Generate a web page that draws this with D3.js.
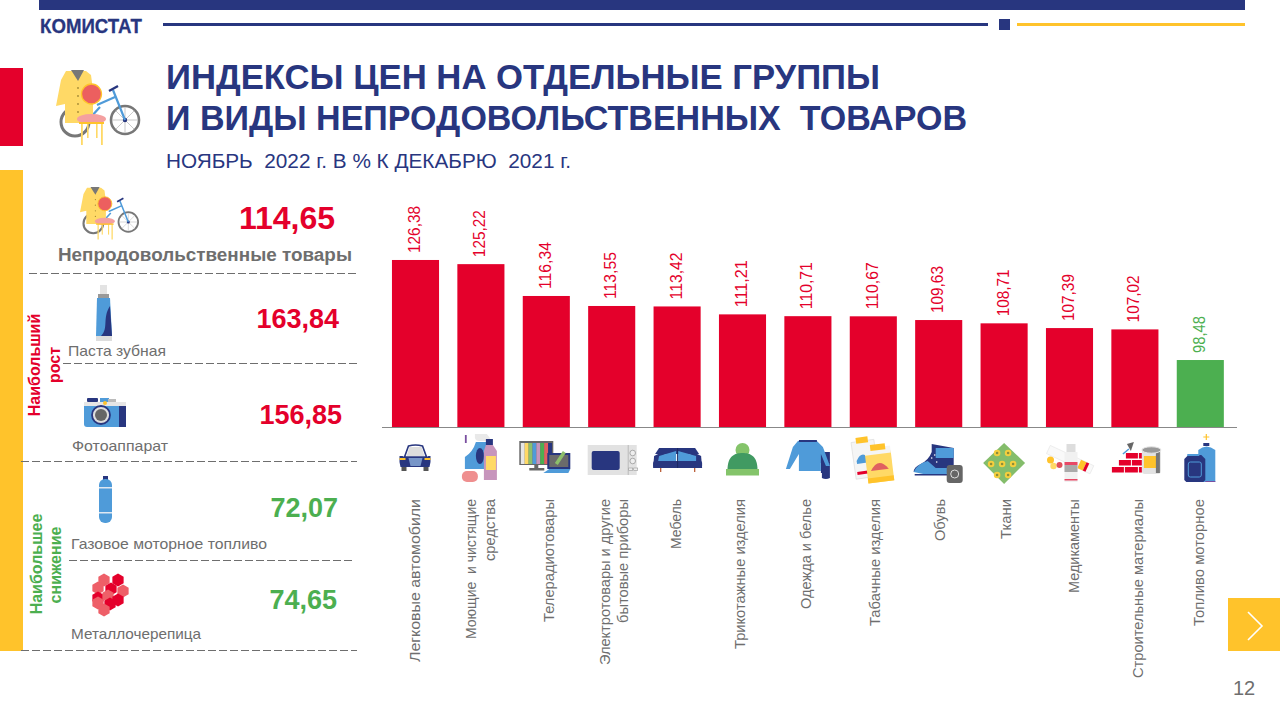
<!DOCTYPE html>
<html lang="ru"><head><meta charset="utf-8">
<script src="https://cdnjs.cloudflare.com/ajax/libs/d3/7.8.5/d3.min.js"></script>
<style>html,body{margin:0;padding:0;background:#fff;overflow:hidden}svg{display:block;font-family:"Liberation Sans",Arial,sans-serif}text{white-space:pre}</style>
</head><body><svg id="c" width="1280" height="720"></svg>
<script>
const categories=[["Легковые автомобили"],["Моющие  и чистящие","средства"],["Телерадиотовары"],["Электротовары и другие","бытовые приборы"],["Мебель"],["Трикотажные изделия"],["Одежда и белье"],["Табачные изделия"],["Обувь"],["Ткани"],["Медикаменты"],["Строительные материалы"],["Топливо моторное"]];
const values=[126.38,125.22,116.34,113.55,113.42,111.21,110.71,110.67,109.63,108.71,107.39,107.02,98.48];
const iconKeys=["car","clean","tv","micro","sofa","hat","clothes","tobacco","boot","fabric","meds","build","fuel"];
const panelNames=["Паста зубная","Фотоаппарат","Газовое моторное топливо","Металлочерепица"];
const panelValues=[163.84,156.85,72.07,74.65];
const overallName="Непродовольственные товары";
const overallValue=114.65;

const NAVY="#28367f",RED="#e4002b",YEL="#ffc32b",GRN="#4caf50",GREY="#6e6e6e",BLUE="#4f9bd9";
const svg=d3.select("#c");
const fmt=v=>v.toFixed(2).replace(".",",");
const R=(g,x,y,w,h,f,o={})=>{const e=g.append("rect").attr("x",x).attr("y",y).attr("width",w).attr("height",h).attr("fill",f);for(const k in o)e.attr(k,o[k]);return e};
const C=(g,x,y,r,f,s,sw)=>g.append("circle").attr("cx",x).attr("cy",y).attr("r",r).attr("fill",f||"none").attr("stroke",s||"none").attr("stroke-width",sw||0);
const P=(g,d,f,s,sw)=>g.append("path").attr("d",d).attr("fill",f||"none").attr("stroke",s||"none").attr("stroke-width",sw||0);
const T=(g,x,y,t,size,fill,o={})=>{const e=g.append("text").attr("x",x).attr("y",y).attr("font-size",size).attr("fill",fill).text(t);for(const k in o)e.attr(k,o[k]);return e};
const VT=(g,x,y,t,size,fill,o={})=>{const e=g.append("text").attr("transform",`translate(${x},${y}) rotate(-90)`).attr("font-size",size).attr("fill",fill).text(t);for(const k in o)e.attr(k,o[k]);return e};

/* frame */
R(svg,39,0,1206,10,NAVY);
R(svg,163,23,825,3,NAVY);
R(svg,999,19,11,11,NAVY);
R(svg,1017,23,228,3,YEL);
T(svg,40,33,"КОМИСТАТ",21,NAVY,{"font-weight":"bold",textLength:102,lengthAdjust:"spacingAndGlyphs",stroke:NAVY,"stroke-width":.3});
R(svg,0,68,23,78,RED);
R(svg,0,170,23,481,YEL);
R(svg,1228,598,52,53,YEL);
P(svg,"M1248,612L1262,626L1248,640","none","#fff",1.6);
T(svg,1233,695,"12",20,GREY);
T(svg,166,88.5,"ИНДЕКСЫ ЦЕН НА ОТДЕЛЬНЫЕ ГРУППЫ",35,NAVY,{"font-weight":"bold",textLength:714,lengthAdjust:"spacingAndGlyphs"});
T(svg,166,130,"И ВИДЫ НЕПРОДОВОЛЬСТВЕННЫХ  ТОВАРОВ",35,NAVY,{"font-weight":"bold",textLength:801,lengthAdjust:"spacingAndGlyphs"});
T(svg,166,168,"НОЯБРЬ  2022 г. В % К ДЕКАБРЮ  2021 г.",20,NAVY,{textLength:405,lengthAdjust:"spacingAndGlyphs"});

/* icons */
const icons={
 main(g){
  C(g,75,122,14,"none","#777",3);C(g,125,120,14,"#fff","#777",2.6);
  [0,45,90,135].forEach(a=>{const r=a*Math.PI/180,dx=13*Math.cos(r),dy=13*Math.sin(r);P(g,`M${125-dx},${120-dy}L${125+dx},${120+dy}`,"none","#bbb",.8)});
  C(g,125,120,2.2,NAVY);
  P(g,"M125,120L113,90M97,105L115,97M100,107L90,118",null,BLUE,2.2);P(g,"M109,91L118,86",null,NAVY,2.4);
  P(g,"M66,71H86L91,75L93,90V123H65V104L56,106L61,80Z","#ffd966");
  P(g,"M71,70H84L78,81Z","#777");
  [88,96,104,112].forEach(v=>C(g,78,v,.9,"#a58a35"));
  C(g,91.5,94,10,"#ec5f5f",YEL,1.3);
  R(g,81,123,1.8,22,"#ffd966");R(g,101,123,1.8,22,"#ffd966");R(g,87,123,1.6,15,"#ffd966");R(g,96,123,1.6,15,"#ffd966");
  g.append("ellipse").attr("cx",91.5).attr("cy",119).attr("rx",14.5).attr("ry",5).attr("fill","#f4a0a0");
  R(g,79,122,25,2,YEL);
 },
 paste(g){
  R(g,100,285,7,9,"#e3e3e3");R(g,98,294,11,4,"#999");
  P(g,"M97,298H110L112,336H96Z",BLUE);P(g,"M110,306L112,336H101C109,328,102,318,110,306Z",NAVY);
  R(g,96,336,16,5,"#ddd");
 },
 camera(g){
  R(g,87,398,11,4,NAVY,{rx:1});R(g,100,398,9,4,BLUE);R(g,108,399,8,3,"#bbb");
  R(g,84,402,42,25,BLUE,{rx:3});R(g,84,402,42,4,"#e6e6e6");R(g,119,406,7,21,NAVY);
  C(g,101,415,9,"#ddd",NAVY,1.8);C(g,101,415,6,"#666");C(g,105,403,2,YEL);
 },
 gas(g){
  R(g,103,476,5,4,NAVY);
  R(g,99,479,13,44,BLUE,{rx:6});R(g,99,487,13,1.5,"#dfe8f2");R(g,99,512,13,1.5,"#dfe8f2");
 },
 tile(g){
  const pts=[[104,580],[118,580],[98,588],[111,589],[123,591],[98,598],[108,596],[118,600],[98,603],[110,604],[104,610]];
  pts.forEach((p,i)=>{const [x,y]=p,r=6.5,d=d3.range(6).map(k=>{const a=k*Math.PI/3+Math.PI/6;return[x+r*Math.cos(a),y+r*Math.sin(a)]});
   P(g,"M"+d.join("L")+"Z",i%2==0?"#ee5f68":RED);});
 },
 car(g){
  P(g,"M-11,-2L-7,-13Q0,-15,7,-13L11,-2Z","#fff",NAVY,1.6);P(g,"M-9,-3L-6,-12H6L9,-3Z","#ddd");
  P(g,"M-16,-3L-13,-3L-11,-2H11L13,-3L15,-3V3L14,8H-15L-16,3Z",NAVY);
  R(g,-16,-1,6,2,YEL);R(g,9,-1,6,2,YEL);P(g,"M-7,-1H7L5,7H-5Z","#7896c8");
  R(g,-14,8,5,4,"#555");R(g,8,8,5,4,"#555");
 },
 clean(g){
  P(g,"M-5,-17H5L7,-14V10H-16V-2Q-8,-7,-5,-17Z",BLUE);P(g,"M-6,-25H6L9,-21V-18H-2Q-5,-18,-6,-21Z","#e9e9e9");R(g,-16,-24,1.8,8,"#7a4fa0");
  g.append("ellipse").attr("cx",-1).attr("cy",-3).attr("rx",4).attr("ry",8).attr("fill",NAVY);
  R(g,5,-20,7,6,NAVY);P(g,"M3,-8L5,-14H12L16,-8V21H3Z","#c795bc");R(g,5,-3,10,14,"#ffd966");
  R(g,-19,12,16,11,"#ef8f8f",{rx:5});
 },
 tv(g){
  R(g,-27,-18,34,24,"#666");
  ["#e6e6e6","#ffd966","#8dbf6b",BLUE,"#c795bc",GRN,"#e06060",NAVY].forEach((c,i)=>R(g,-25.5+i*3.9,-16,3.9,21,c));
  R(g,-12,6,4,4,"#666");R(g,-17,9,15,2.5,"#666");
  R(g,1,-6,23,16,NAVY);R(g,3,-4,19,12,"#6b6b6b");P(g,"M-3,14L3,10H24L22,14Z",BLUE);
  P(g,"M10,5L18,-7",null,"#8dbf6b",3.5);
 },
 micro(g){
  R(g,-24,-15,49,30,"#e2e2e2");R(g,16,-15,1,30,"#bbb");
  R(g,-20,-9,28,19,NAVY,{rx:2});
  C(g,21,-7,2.8,"#eee","#999",.8);C(g,21,1,2.8,"#eee","#999",.8);
  R(g,17,8,4,2.5,"#eee",{stroke:"#999","stroke-width":.6});R(g,22,8,4,2.5,"#eee",{stroke:"#999","stroke-width":.6});
 },
 sofa(g){
  P(g,"M-18,-12H18L22,-6H-22Z",NAVY);
  P(g,"M-23,-4L-17,-7L-2,-3V8H-24Z",NAVY);P(g,"M24,-4L18,-7L2,-3V8H25Z",NAVY);
  P(g,"M-18,-4L-1,-9V1H-19Z",BLUE);P(g,"M19,-4L1,-9V1H19Z",BLUE);
  R(g,-24,1,49,7,NAVY,{rx:2});R(g,0,-12,1,20,"#1b2860");
  R(g,-17,8,1.2,4,"#b5532a");R(g,17,8,1.2,4,"#b5532a");
 },
 hat(g){
  C(g,0,-10,7,"#84c46a");
  P(g,"M-15,10C-15,-4,-8,-7,0,-7C8,-7,15,-4,15,10Z","#419a62");
  R(g,-16.5,9,33,6.5,"#84c46a");
 },
 clothes(g){
  R(g,11,-8,11,11,NAVY);R(g,13,3,4,10,NAVY);P(g,"M14,2H22V18Q18,20,14,18Z",NAVY);
  P(g,"M-10,-19H9L15,-13L22,6H18L13,-6V11H-9V-6L-18,9H-22L-15,-13Z",BLUE);
  R(g,-9,-20,18,2,NAVY);
 },
 tobacco(g){
  g.append("g").attr("transform","rotate(-8,-10,-2)").call(s=>{R(s,-20,-19,23,37,"#f5f5f5",{stroke:"#ddd","stroke-width":.7});R(s,-15,-23,12,6,YEL);P(s,"M-17,0Q-11,-10,-5,-2L-5,3H-17Z",BLUE);R(s,-18,11,14,3,RED);});
  g.append("g").attr("transform","rotate(-7,6,5)").call(s=>{R(s,-7,-8,26,30,"#ffd966");R(s,-7,-13,26,7,"#f5f5f5");R(s,-1,-16,15,6,YEL);P(s,"M-3,10Q6,-4,15,10Z","#e06060");R(s,-7,17,26,5,YEL);});
 },
 boot(g){
  P(g,"M-7,-20L15,-16V8H-25Q-25,3,-18,0Q-10,-4,-7,-12Z",NAVY);R(g,-3,-16,18,10,BLUE);
  P(g,"M-25,8Q-22,0,-11,-3L-3,4L15,4V9Q-8,13,-25,8Z",BLUE);R(g,-24,10,38,1.5,NAVY);
  [[-7,-6],[-4,-9],[-2,-2]].forEach(p=>C(g,p[0],p[1],.8,"#fff"));
  R(g,8,1,16,18,"#666",{rx:3});C(g,16,10,4,"none","#ddd",1);
 },
 fabric(g){
  P(g,"M0,-20L21,0L0,21L-21,0Z","#84bd6b");
  [[-7,-10],[4,-10],[-13,1],[-2,1],[9,1],[-7,12],[4,12]].forEach(p=>{C(g,p[0],p[1],3.3,"#f5cf3e");C(g,p[0],p[1],1.3,"#8d8d3a")});
 },
 meds(g){
  g.append("g").attr("transform","rotate(25,0,0)").call(s=>{R(s,-24,-6,48,9,"#f9f9f9",{stroke:"#e6e6e6","stroke-width":.6});R(s,10,-6,6,9,YEL);R(s,16,-6,3,9,RED);});
  R(g,-3,-17,9,8,"#ddd");P(g,"M-5,-9H8V21H-5Z","#f1f1f1");R(g,-5,1,13,3,RED,{opacity:.7});R(g,-5,4,13,7,"#aaa");R(g,-5,18,13,1.5,RED,{opacity:.7});
  C(g,-19,-1,3.5,YEL);C(g,-16,5,3.2,"#ffd966");C(g,-10,4,3,"#e0505a");
 },
 build(g){
  R(g,-9,-6,12,5.5,RED);R(g,4,-6,3,5.5,RED);
  R(g,-16,1,12,5.5,RED);R(g,-3,1,10,5.5,RED);
  R(g,-23,8,12,5.5,RED);R(g,-10,8,13,5.5,RED);R(g,4,8,3,5.5,RED);
  P(g,"M-8,-15L-1,-17L-4,-8Z","#666");P(g,"M-6,-10L-12,-5",null,BLUE,1.5);
  R(g,7,-9,19,24,"#e3e3e3",{rx:3});R(g,9,-3,13,12,YEL);R(g,21,-8,4,22,"#777");
  g.append("ellipse").attr("cx",16.5).attr("cy",-9).attr("rx",9.5).attr("ry",3.2).attr("fill","#999").attr("stroke","#e3e3e3");
 },
 fuel(g){
  R(g,-2,-10,17,32,BLUE);P(g,"M-2,-10Q6,-17,15,-10Z",BLUE);R(g,3,-17,6,3,NAVY);P(g,"M3,-23H9M6,-26V-20",null,YEL,1.2);
  P(g,"M-16,-1L-12,-5H1L5,-1V20L3,22H-14L-16,20Z",NAVY);R(g,-12,2,13,15,"none",{stroke:BLUE,"stroke-width":1,rx:2});R(g,-13,-6,12,2,BLUE);
  R(g,5,21,10,1,"#7a4fa0");
 }
};

icons.main(svg.append("g"));
icons.main(svg.append("g").attr("transform","translate(40.8,138) scale(.7)"));

/* left panel */
T(svg,335,229,fmt(overallValue),32,RED,{"font-weight":"bold","text-anchor":"end"});
T(svg,58,261,overallName,18,GREY,{"font-weight":"bold",textLength:294,lengthAdjust:"spacingAndGlyphs"});
const dashes=[[29,273.5,357],[63,363.5,357],[21,461.5,357],[69,560.5,352],[21,650.5,357]];
svg.append("g").selectAll("line").data(dashes).join("line").attr("x1",d=>d[0]).attr("x2",d=>d[2]).attr("y1",d=>d[1]).attr("y2",d=>d[1])
  .attr("stroke",GREY).attr("stroke-width",1).attr("stroke-dasharray","8 3");
const pIcons=["paste","camera","gas","tile"],pNameX=[68,72,71,71],pNameY=[356,451,549,639],pValX=[339,342,338,337],pValY=[328,424,517,609],pCol=[RED,RED,GRN,GRN],pW=[98,96,196,130];
panelNames.forEach((n,i)=>{
  icons[pIcons[i]](svg.append("g"));
  T(svg,pNameX[i],pNameY[i],n,15,GREY,{textLength:pW[i],lengthAdjust:"spacingAndGlyphs"});
  T(svg,pValX[i],pValY[i],fmt(panelValues[i]),27,pCol[i],{"font-weight":"bold","text-anchor":"end"});
});
VT(svg,40,365,"Наибольший",16,RED,{"font-weight":"bold","text-anchor":"middle"});
VT(svg,60,365,"рост",16,RED,{"font-weight":"bold","text-anchor":"middle"});
VT(svg,42,564,"Наибольшее",16,GRN,{"font-weight":"bold","text-anchor":"middle"});
VT(svg,61,565,"снижение",16,GRN,{"font-weight":"bold","text-anchor":"middle"});

/* chart */
const x=d3.scaleBand().domain(d3.range(values.length)).range([382.8,1233]).paddingInner(.28).paddingOuter(.14);
const y=d3.scaleLinear().domain([79.8,130]).range([427,247]);
const cx=i=>x(i)+x.bandwidth()/2;
const col=v=>v<100?GRN:RED;
svg.append("g").selectAll("rect").data(values).join("rect")
  .attr("x",(d,i)=>x(i)).attr("width",x.bandwidth()).attr("y",d=>y(d)).attr("height",d=>427-y(d)).attr("fill",col);
svg.append("line").attr("x1",382).attr("x2",1237).attr("y1",427.5).attr("y2",427.5).attr("stroke","#888").attr("stroke-width",1);
svg.append("g").selectAll("text").data(values).join("text")
  .attr("transform",(d,i)=>`translate(${cx(i)+4.5},${y(d)-7}) rotate(-90)`)
  .attr("font-size",16.5).attr("fill",col).attr("textLength",d=>d<100?37:47).attr("lengthAdjust","spacingAndGlyphs").text(fmt);
const iconY=[459,459,459,460,460,460,460,460,464,463,461,459,460];
iconKeys.forEach((k,i)=>icons[k](svg.append("g").attr("transform",`translate(${cx(i)},${iconY[i]})`)));
const labelLen=[[163],[140,62],[123],[166,124],[50],[150],[110],[127],[42],[40],[94],[179],[127]];
const labelShift=[[4.5],[-4.5,14.5],[8],[-2,16],[4],[2.5],[3],[7],[6],[7],[9],[8.5],[4]];
categories.forEach((lines,i)=>{
  lines.forEach((t,j)=>VT(svg,cx(i)+labelShift[i][j],499,t,15.5,GREY,{"text-anchor":"end",textLength:labelLen[i][j],lengthAdjust:"spacingAndGlyphs"}));
});
</script></body></html>
